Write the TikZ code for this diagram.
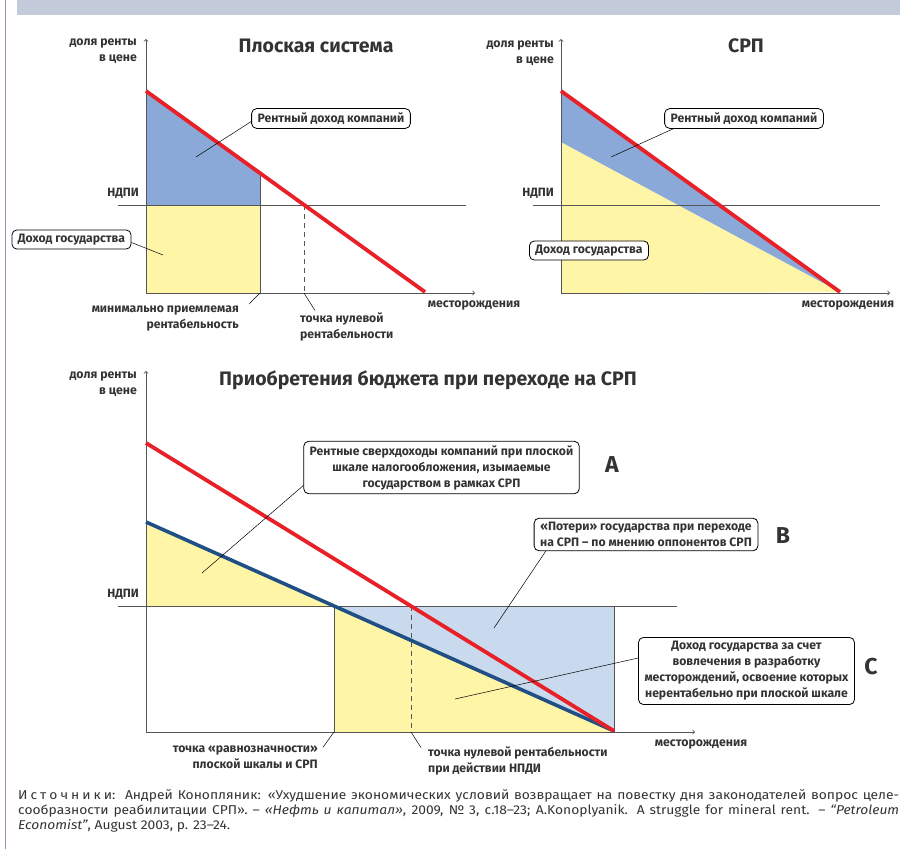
\documentclass[tikz,border=0pt]{standalone}
\usepackage{fontspec}
\setmainfont{Fira Sans}
\newfontfamily\srcfont{Fira Sans}[FakeStretch=1.08]

\definecolor{bandgrey}{HTML}{C3CBDA}
\definecolor{framegrey}{HTML}{8D9BB8}
\definecolor{axgrey}{HTML}{555555}
\definecolor{txtgrey}{HTML}{333333}
\definecolor{rentred}{HTML}{E82028}
\definecolor{srpblue}{HTML}{1F4F85}
\definecolor{rentfill}{HTML}{8AA9D8}
\definecolor{lossfill}{HTML}{C9DAEF}
\definecolor{govfill}{HTML}{FFF5A6}

\begin{document}
\begin{tikzpicture}[x=1pt, y=-1pt,
  ttl/.style={font=\bfseries\fontsize{19.5}{22}\selectfont, text=txtgrey, inner sep=0pt},
  axlab/.style={font=\bfseries\fontsize{12.3}{15.5}\selectfont, text=txtgrey, align=right, inner sep=0pt},
  ptlab/.style={font=\bfseries\fontsize{12.2}{16}\selectfont, text=txtgrey, inner sep=0pt},
  ndpilab/.style={font=\bfseries\fontsize{12}{14}\selectfont, text=txtgrey, inner sep=0pt},
  callout/.style={draw=black, fill=white, rounded corners=5pt, line width=0.8pt,
    font=\bfseries\fontsize{12.2}{16}\selectfont, text=txtgrey, align=center,
    inner xsep=6pt, inner ysep=4pt},
  letter/.style={font=\bfseries\fontsize{23}{25}\selectfont, text=txtgrey, inner sep=0pt},
  axline/.style={color=axgrey, line width=0.8pt},
  axarrow/.style={axline, ->},
  zerodash/.style={axline, dash pattern=on 5pt off 4pt},
  rentline/.style={color=rentred, line width=3.8pt},
  srpline/.style={color=srpblue, line width=3.6pt},
  lead/.style={black, line width=0.5pt}]

\useasboundingbox (0,0) rectangle (900,849);

\fill [bandgrey] (17,0) rectangle (900,15);

\draw [framegrey, line width=0.8pt] (5,0) -- (5,849);

\coordinate (fo) at (146,293);
\coordinate (fy) at (146,39);
\coordinate (fx) at (475,293);
\coordinate (fr1) at (146,91);
\coordinate (fr2) at (425,292);
\coordinate (fmin) at (260,173);
\coordinate (fminn) at (260,205);
\coordinate (fminb) at (260,293);
\coordinate (fzero) at (304,205);
\coordinate (fzerob) at (304,293);

\fill [rentfill] (fr1) -- (fmin) -- (fminn) -- (146,205) -- cycle;
\fill [govfill] (146,205) rectangle (fminb);

\draw [axline] (fmin) -- (fminb);
\draw [zerodash] (fzero) -- (fzerob);
\draw [axline] (118,205) -- (466,205);
\draw [axarrow] (fo) -- (fy);
\draw [axarrow] (fo) -- (fx);
\draw [rentline] (fr1) -- (fr2);

\node (ttlflat) at (316,46) [ttl] {Плоская система};
\node (yflat) at (137,51) [axlab, anchor=east] {доля ренты\\в цене};
\node (ndpiflat) at (123,193) [ndpilab] {НДПИ};
\node (xflat) at (474,305) [axlab] {месторождения};

\node (rentflat) at (331,118.5) [callout] {Рентный доход компаний};
\node (govflat) at (71.5,239.5) [callout] {Доход государства};
\node (minlab) at (239,319) [ptlab, anchor=east, align=right] {минимально приемлемая\\рентабельность};
\node (zerolab) at (300,327) [ptlab, anchor=west, align=left] {точка нулевой\\рентабельности};

\draw [lead] ([yshift=-3pt]rentflat.west) -- (196,157);
\draw [lead] ([yshift=-3pt]govflat.east) -- (163,255);
\draw [lead] (fminb) -- ([xshift=10pt,yshift=2pt]minlab.north east);
\draw [lead] (fzerob) -- ([xshift=15pt,yshift=2pt]zerolab.north west);

\coordinate (so) at (561,293);
\coordinate (sy) at (561,39);
\coordinate (sx) at (890,293);
\coordinate (sr1) at (561,91);
\coordinate (sr2) at (840,292);
\coordinate (sb1) at (561,142);

\fill [govfill] (sb1) -- (sr2) -- (so) -- cycle;
\fill [rentfill] (sr1) -- (sr2) -- (sb1) -- cycle;

\draw [axline] (533,205) -- (880,205);
\draw [axarrow] (so) -- (sy);
\draw [axarrow] (so) -- (sx);
\draw [rentline] (sr1) -- (sr2);

\node (ttlsrp) at (746,46) [ttl] {СРП};
\node (ysrp) at (554,53) [axlab, anchor=east] {доля ренты\\в цене};
\node (ndpisrp) at (538,193) [ndpilab] {НДПИ};
\node (xsrp) at (848,305) [axlab] {месторождения};

\node (rentsrp) at (744,118.5) [callout] {Рентный доход компаний};
\node (govsrp) at (589,250.5) [callout] {Доход государства};

\draw [lead] ([xshift=9pt]rentsrp.south west) -- (611,157);

\coordinate (go) at (146,732);
\coordinate (gy) at (146,371);
\coordinate (gx) at (695,732);
\coordinate (gr1) at (146,443);
\coordinate (gend) at (614,731);
\coordinate (gb1) at (146,522);
\coordinate (geq) at (334,606);
\coordinate (geqb) at (334,732);
\coordinate (gzero) at (411,606);
\coordinate (gzerob) at (411,732);
\coordinate (gedge) at (614,606);
\coordinate (gedgeb) at (614,732);

\fill [lossfill] (geq) rectangle (gedgeb);
\fill [govfill] (gb1) -- (geq) -- (146,606) -- cycle;
\fill [govfill] (geq) -- (gend) -- (gedgeb) -- (geqb) -- cycle;

\draw [axline] (geq) -- (geqb);
\draw [zerodash] (gzero) -- (gzerob);
\draw [axline] (gedge) -- (gedgeb);
\draw [axline] (118,606) -- (677,606);
\draw [axarrow] (go) -- (gy);
\draw [axarrow] (go) -- (gx);
\draw [srpline] (gb1) -- (gend);
\draw [rentline] (gr1) -- (gend);

\node (ttlgain) at (428,380) [ttl] {Приобретения бюджета при переходе на СРП};
\node (ygain) at (137,384) [axlab, anchor=east] {доля ренты\\в цене};
\node (ndpigain) at (123,594) [ndpilab] {НДПИ};
\node (xgain) at (701,744) [axlab] {месторождения};

\node (boxa) at (441.5,467.5) [callout] {Рентные сверхдоходы компаний при плоской\\шкале налогообложения, изымаемые\\государством в рамках СРП};
\node (boxb) at (646,534.5) [callout] {«Потери» государства при переходе\\на СРП – по мнению оппонентов СРП};
\node (boxc) at (746.5,671) [callout] {Доход государства за счет\\вовлечения в разработку\\месторождений, освоение которых\\нерентабельно при плоской шкале};

\node (lta) at (612,465) [letter] {A};
\node (ltb) at (783,536) [letter] {B};
\node (ltc) at (871,667) [letter] {C};

\node (eqlab) at (318,757) [ptlab, anchor=east, align=right] {точка «равнозначности»\\плоской шкалы и СРП};
\node (zerogain) at (428,761) [ptlab, anchor=west, align=left] {точка нулевой рентабельности\\при действии НПДИ};

\draw [lead] ([yshift=-18pt]boxa.west) -- (202,573);
\draw [lead] ([xshift=12pt]boxb.south west) -- (494,628);
\draw [lead] ([yshift=13pt]boxc.west) -- (455,699);
\draw [lead] (geqb) -- ([xshift=5pt,yshift=-2pt]eqlab.north east);
\draw [lead] (gzerob) -- ([xshift=-7pt,yshift=-1pt]zerogain.north west);

\node (src) at (18,789) [anchor=north west, text width=881pt, align=justify, inner sep=0pt,
  font=\srcfont\fontsize{12.8}{15.2}\selectfont, text=txtgrey]
  {И\kern3pt с\kern3pt т\kern3pt о\kern3pt ч\kern3pt н\kern3pt и\kern3pt к\kern3pt и:\ \ Андрей Конопляник: «Ухудшение экономических условий возвращает на повестку дня законодателей вопрос целе-\linebreak
  сообразности реабилитации СРП». – \textit{«Нефть и капитал»}, 2009, №~3, с.18–23; A.Konoplyanik. A struggle for mineral rent. – \textit{“Petroleum\linebreak
  Economist”}, August 2003, p. 23–24.};

\end{tikzpicture}
\end{document}
